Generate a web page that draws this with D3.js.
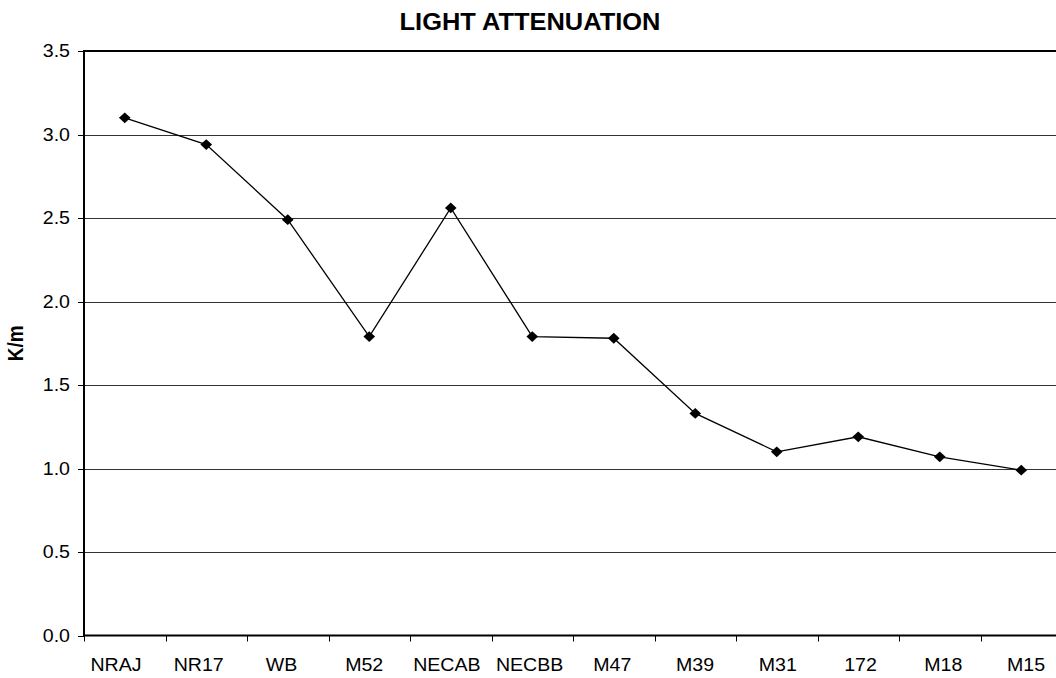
<!DOCTYPE html>
<html>
<head>
<meta charset="utf-8">
<script src="https://cdn.jsdelivr.net/npm/d3@7"></script>
<style>
  html, body { margin: 0; padding: 0; background: #fff; }
  svg { display: block; font-family: "Liberation Sans", Arial, sans-serif; }
</style>
</head>
<body>
<svg id="chart" width="1056" height="678"></svg>
<script>
// Sampling stations along the transect
const stations = ["NRAJ", "NR17", "WB", "M52", "NECAB", "NECBB", "M47", "M39", "M31", "172", "M18", "M15"];
// Light attenuation coefficient (K/m) at each station
const attenuation = [3.10, 2.94, 2.49, 1.79, 2.56, 1.79, 1.78, 1.33, 1.10, 1.19, 1.07, 0.99];
// Value axis ticks
const yTicks = [0.0, 0.5, 1.0, 1.5, 2.0, 2.5, 3.0, 3.5];

const svg = d3.select("#chart");
const x0 = 84, x1 = 1062;          // plot area runs slightly past the right edge
const y0 = 635.5, y1 = 51;
const SX = 1.12;                   // horizontal text stretch
const FS = 17.5;                   // tick label size

const x = d3.scaleBand().domain(stations).range([x0, x1]);
const xLabel = d3.scalePoint().domain(stations).range([116, 1026]);
const y = d3.scaleLinear().domain([0, 3.5]).range([y0, y1]);
const cx = d => x(d) + x.bandwidth() / 2;

// Horizontal gridlines
svg.append("g")
  .selectAll("line")
  .data(yTicks.filter(t => t > 0 && t < 3.5))
  .join("line")
  .attr("x1", x0).attr("x2", x1)
  .attr("y1", d => Math.round(y(d)) + 0.5).attr("y2", d => Math.round(y(d)) + 0.5)
  .attr("stroke", "#333").attr("stroke-width", 1);

// Plot area top border
svg.append("line")
  .attr("x1", x0).attr("x2", x1)
  .attr("y1", y(3.5)).attr("y2", y(3.5))
  .attr("stroke", "#000").attr("stroke-width", 2);

// Y axis line and ticks
const yAxis = svg.append("g");
yAxis.append("line")
  .attr("x1", x0).attr("x2", x0).attr("y1", y1 - 1).attr("y2", y0 + 1)
  .attr("stroke", "#000").attr("stroke-width", 2);
yAxis.selectAll("line.tk")
  .data(yTicks)
  .join("line")
  .attr("class", "tk")
  .attr("x1", x0 - 6).attr("x2", x0)
  .attr("y1", d => Math.round(y(d)) + 0.5).attr("y2", d => Math.round(y(d)) + 0.5)
  .attr("stroke", "#000");
yAxis.selectAll("g.lbl")
  .data(yTicks)
  .join("g")
  .attr("class", "lbl")
  .attr("transform", d => `translate(70,${y(d) + 6}) scale(${SX},1)`)
  .append("text")
  .attr("text-anchor", "end")
  .attr("font-size", FS)
  .attr("fill", "#000")
  .text(d => d3.format(".1f")(d));

// X axis with ticks at category boundaries
const xAxisG = svg.append("g");
xAxisG.append("line")
  .attr("x1", x0 - 1).attr("x2", x1).attr("y1", y0).attr("y2", y0)
  .attr("stroke", "#000").attr("stroke-width", 2);
xAxisG.selectAll("line.tk")
  .data(stations)
  .join("line")
  .attr("class", "tk")
  .attr("x1", d => Math.round(x(d)) + 0.5).attr("x2", d => Math.round(x(d)) + 0.5)
  .attr("y1", y0).attr("y2", y0 + 6)
  .attr("stroke", "#000");
xAxisG.selectAll("g.lbl")
  .data(stations)
  .join("g")
  .attr("class", "lbl")
  .attr("transform", d => `translate(${xLabel(d)},671) scale(${SX},1)`)
  .append("text")
  .attr("text-anchor", "middle")
  .attr("font-size", FS)
  .attr("fill", "#000")
  .text(d => d);

// Data line
const line = d3.line()
  .x((d, i) => cx(stations[i]))
  .y(d => y(d));
svg.append("path")
  .datum(attenuation)
  .attr("d", line)
  .attr("fill", "none")
  .attr("stroke", "#000")
  .attr("stroke-width", 1.3);

// Diamond markers
const diamond = d3.symbol().type(d3.symbolDiamond2).size(74);
svg.append("g")
  .selectAll("path")
  .data(attenuation)
  .join("path")
  .attr("transform", (d, i) => `translate(${cx(stations[i])},${y(d)}) scale(1.08,1)`)
  .attr("d", diamond)
  .attr("fill", "#000");

// Title
svg.append("g")
  .attr("transform", `translate(530,30) scale(1.06,1)`)
  .append("text")
  .attr("text-anchor", "middle")
  .attr("font-size", 24).attr("font-weight", "bold")
  .text("LIGHT ATTENUATION");

// Y axis title
svg.append("g")
  .attr("transform", `translate(23,${(y0 + y1) / 2}) scale(${SX},1) rotate(-90)`)
  .append("text")
  .attr("text-anchor", "middle")
  .attr("font-size", 19).attr("font-weight", "bold")
  .text("K/m");
</script>
</body>
</html>
